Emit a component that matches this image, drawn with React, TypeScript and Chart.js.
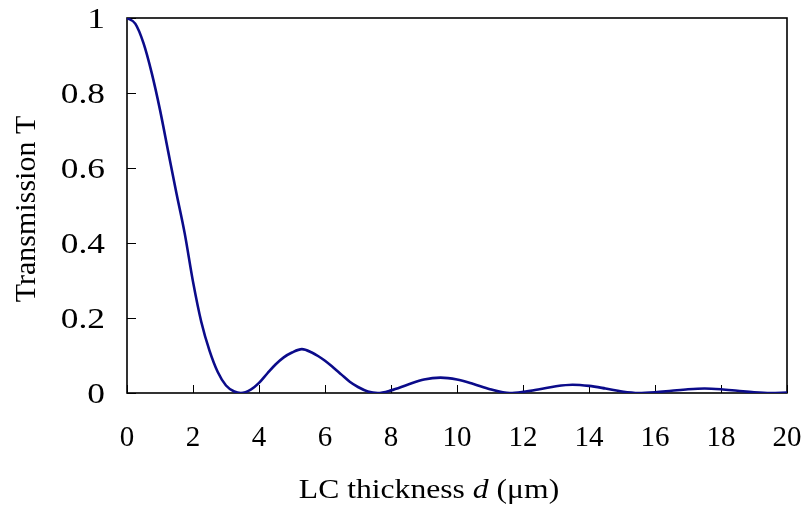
import React, { useEffect, useRef } from "react";
import { Chart, registerables } from "chart.js";

Chart.register(...registerables);

// LC thickness d (µm)
const thickness = [
  0, 0.25, 0.5, 0.75, 1.0, 1.25, 1.5, 1.75, 2.0, 2.25, 2.5, 2.75, 3.0, 3.25, 3.45,
  3.75, 4.0, 4.25, 4.5, 4.75, 5.0, 5.3, 5.6, 5.8, 6.0, 6.25, 6.5, 6.75, 7.0, 7.3, 7.6,
  8.0, 8.5, 9.0, 9.5, 10.0, 10.5, 11.0, 11.6,
  12.0, 12.5, 13.0, 13.5, 14.0, 14.5, 15.0, 15.5,
  16.0, 16.5, 17.0, 17.5, 18.0, 18.5, 19.0, 19.5, 20.0,
];

// Transmission T
const transmission = [
  1.0, 0.985, 0.933, 0.853, 0.755, 0.643, 0.532, 0.425, 0.297, 0.19, 0.113, 0.056, 0.02, 0.004, 0,
  0.009, 0.027, 0.052, 0.076, 0.095, 0.108, 0.117, 0.108, 0.098, 0.086, 0.068, 0.049, 0.03, 0.016, 0.004, 0,
  0.007, 0.022, 0.036, 0.041, 0.036, 0.024, 0.01, 0,
  0.003, 0.01, 0.018, 0.022, 0.019, 0.012, 0.004, 0,
  0.002, 0.006, 0.01, 0.012, 0.01, 0.006, 0.002, 0, 0.001,
];

const xTickValues = [0, 2, 4, 6, 8, 10, 12, 14, 16, 18, 20];
const xTickLabels = ["0", "2", "4", "6", "8", "10", "12", "14", "16", "18", "20"];
const yTickValues = [0, 0.2, 0.4, 0.6, 0.8, 1];
const yTickLabels = ["0", "0.2", "0.4", "0.6", "0.8", "1"];

const yTitle = "Transmission T";
const xTitleParts = [
  { text: "LC thickness ", italic: false },
  { text: "d", italic: true },
  { text: " (\u03bcm)", italic: false },
];

const FONT_FAMILY = '"Liberation Serif", "Times New Roman", serif';

export default function App() {
  const canvasRef = useRef<HTMLCanvasElement | null>(null);

  useEffect(() => {
    const canvas = canvasRef.current;
    if (!canvas) return;

    const framePlugin = {
      id: "frameAndTitles",
      beforeDatasetsDraw(chart: any) {
        const { ctx, chartArea, scales } = chart;
        const { left, right, top, bottom } = chartArea;
        const x = scales.x;
        const y = scales.y;
        ctx.save();
        ctx.strokeStyle = "#000";
        ctx.lineWidth = 1;
        ctx.beginPath();
        xTickValues.forEach((v) => {
          const px = Math.round(x.getPixelForValue(v)) + 0.5;
          ctx.moveTo(px, bottom);
          ctx.lineTo(px, bottom - 8);
        });
        yTickValues.forEach((v) => {
          const py = Math.round(y.getPixelForValue(v)) + 0.5;
          ctx.moveTo(left, py);
          ctx.lineTo(left + 9, py);
        });
        ctx.stroke();
        ctx.lineWidth = 1.6;
        ctx.strokeRect(left, top, right - left, bottom - top);
        ctx.restore();
      },
      afterDraw(chart: any) {
        const { ctx, scales } = chart;
        const x = scales.x;
        const y = scales.y;
        ctx.save();
        ctx.fillStyle = "#000";
        ctx.textBaseline = "alphabetic";

        // x tick labels
        ctx.font = `29px ${FONT_FAMILY}`;
        ctx.textAlign = "center";
        xTickValues.forEach((v, i) => {
          ctx.fillText(xTickLabels[i], x.getPixelForValue(v), 446);
        });

        // y tick labels (slightly wide glyphs in the reference)
        const ySx = 1.22;
        ctx.font = `29px ${FONT_FAMILY}`;
        ctx.textAlign = "right";
        yTickValues.forEach((v, i) => {
          ctx.save();
          ctx.translate(105, y.getPixelForValue(v) + 10);
          ctx.scale(ySx, 1);
          ctx.fillText(yTickLabels[i], 0, 0);
          ctx.restore();
        });

        // x title
        const xSx = 1.13;
        const fonts = xTitleParts.map(
          (p) => `${p.italic ? "italic " : ""}28px ${FONT_FAMILY}`
        );
        const widths = xTitleParts.map((p, i) => {
          ctx.font = fonts[i];
          return ctx.measureText(p.text).width;
        });
        const total = widths.reduce((a, b) => a + b, 0);
        ctx.save();
        ctx.translate(429, 498);
        ctx.scale(xSx, 1);
        let cx = -total / 2;
        ctx.textAlign = "left";
        xTitleParts.forEach((p, i) => {
          ctx.font = fonts[i];
          ctx.fillText(p.text, cx, 0);
          cx += widths[i];
        });
        ctx.restore();

        // y title
        ctx.save();
        ctx.translate(35, 209);
        ctx.rotate(-Math.PI / 2);
        ctx.textAlign = "center";
        ctx.font = `30px ${FONT_FAMILY}`;
        ctx.fillText(yTitle, 0, 0);
        ctx.restore();

        ctx.restore();
      },
    };

    const zeroPad = (s: any) => {
      s.paddingTop = 0;
      s.paddingBottom = 0;
      s.paddingLeft = 0;
      s.paddingRight = 0;
    };

    const chart = new Chart(canvas, {
      type: "line",
      data: {
        datasets: [
          {
            data: thickness.map((d, i) => ({ x: d, y: transmission[i] })),
            borderColor: "#0b0b8a",
            borderWidth: 2.6,
            pointRadius: 0,
            fill: false,
            cubicInterpolationMode: "monotone",
          },
        ],
      },
      options: {
        responsive: false,
        animation: false,
        devicePixelRatio: 1,
        layout: { padding: { top: 18, right: 19, left: 0, bottom: 0 } },
        plugins: {
          legend: { display: false },
          tooltip: { enabled: false },
        },
        scales: {
          x: {
            type: "linear",
            min: 0,
            max: 20,
            grid: { display: false, drawTicks: false },
            border: { display: false },
            ticks: { display: false, stepSize: 2 },
            afterFit: (s: any) => {
              s.height = 122;
              zeroPad(s);
            },
          },
          y: {
            type: "linear",
            min: 0,
            max: 1,
            grid: { display: false, drawTicks: false },
            border: { display: false },
            ticks: { display: false, stepSize: 0.2 },
            afterFit: (s: any) => {
              s.width = 127;
              zeroPad(s);
            },
          },
        },
      },
      plugins: [framePlugin],
    } as any);

    return () => chart.destroy();
  }, []);

  return (
    <div style={{ position: "absolute", left: 0, top: 0, width: 806, height: 515, background: "#fff" }}>
      <canvas ref={canvasRef} width={806} height={515} style={{ display: "block" }} />
    </div>
  );
}
